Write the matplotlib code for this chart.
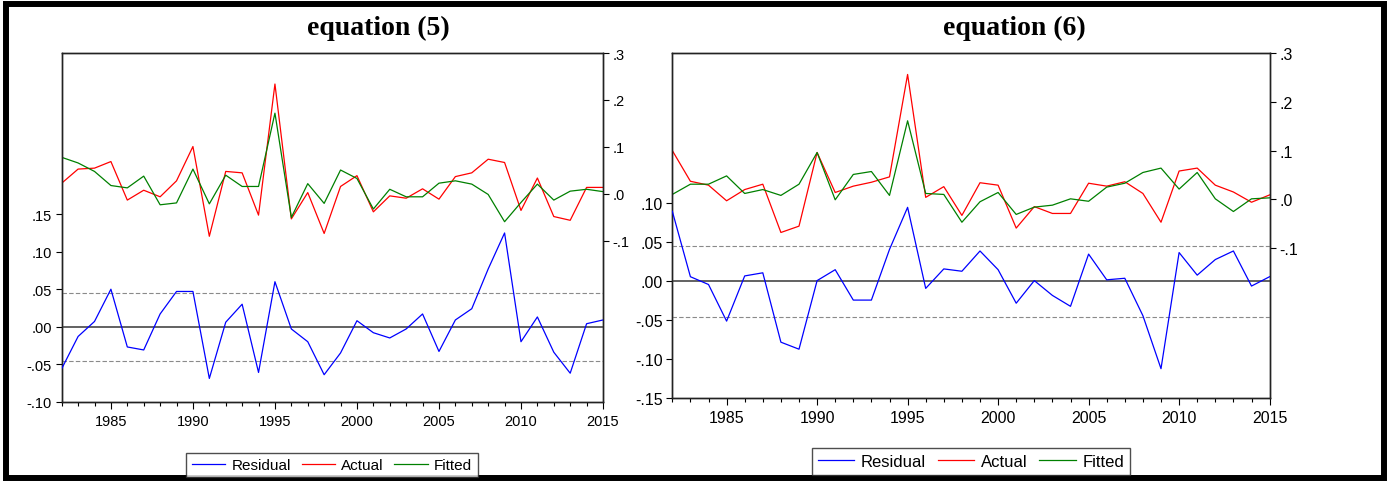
import matplotlib
matplotlib.use("Agg")
import matplotlib.pyplot as plt
from matplotlib.patches import Rectangle
from matplotlib.ticker import FixedLocator, MultipleLocator

years = list(range(1982, 2016))

# ---- equation (5) ----
actual5 = [0.023, 0.053, 0.055, 0.069, -0.013, 0.008, -0.006, 0.028, 0.101, -0.090,
           0.048, 0.045, -0.045, 0.234, -0.053, 0.003, -0.084, 0.016, 0.039, -0.038,
           -0.004, -0.009, 0.011, -0.011, 0.037, 0.045, 0.074, 0.067, -0.035, 0.034,
           -0.048, -0.056, 0.014, 0.014]
fitted5 = [0.078, 0.066, 0.048, 0.018, 0.013, 0.038, -0.023, -0.019, 0.053, -0.021,
           0.040, 0.016, 0.016, 0.172, -0.050, 0.022, -0.020, 0.051, 0.033, -0.032,
           0.010, -0.006, -0.006, 0.023, 0.028, 0.021, -0.001, -0.059, -0.018, 0.021,
           -0.013, 0.006, 0.010, 0.005]
resid5 = [-0.056, -0.013, 0.007, 0.050, -0.027, -0.031, 0.017, 0.047, 0.047, -0.069,
          0.006, 0.030, -0.061, 0.060, -0.003, -0.020, -0.064, -0.035, 0.008, -0.008,
          -0.015, -0.003, 0.017, -0.033, 0.009, 0.024, 0.077, 0.125, -0.020, 0.013,
          -0.034, -0.062, 0.004, 0.009]
band5 = 0.0455

# ---- equation (6) ----
actual6 = [0.100, 0.037, 0.029, -0.003, 0.020, 0.031, -0.068, -0.055, 0.096, 0.014,
           0.027, 0.035, 0.046, 0.256, 0.004, 0.026, -0.033, 0.034, 0.029, -0.059,
           -0.015, -0.029, -0.029, 0.033, 0.027, 0.036, 0.012, -0.047, 0.058, 0.064,
           0.029, 0.015, -0.006, 0.009]
fitted6 = [0.010, 0.031, 0.031, 0.048, 0.012, 0.020, 0.008, 0.031, 0.096, -0.001,
           0.051, 0.057, 0.008, 0.161, 0.012, 0.010, -0.047, -0.005, 0.014, -0.031,
           -0.016, -0.012, 0.001, -0.004, 0.025, 0.033, 0.055, 0.064, 0.021, 0.055,
           0.001, -0.025, 0.001, 0.003]
resid6 = [0.090, 0.006, -0.004, -0.051, 0.007, 0.011, -0.078, -0.087, 0.001, 0.015,
          -0.024, -0.024, 0.041, 0.095, -0.009, 0.016, 0.013, 0.039, 0.015, -0.028,
          0.001, -0.018, -0.032, 0.035, 0.002, 0.004, -0.044, -0.112, 0.037, 0.008,
          0.028, 0.039, -0.006, 0.006]
band6 = 0.0455

titles = ["equation (5)", "equation (6)"]
legend_labels = ["Residual", "Actual", "Fitted"]
xticks = [1985, 1990, 1995, 2000, 2005, 2010, 2015]

res_ticks5 = [-0.10, -0.05, 0.00, 0.05, 0.10, 0.15]
res_labels5 = ["-.10", "-.05", ".00", ".05", ".10", ".15"]
res_ticks6 = [-0.15, -0.10, -0.05, 0.00, 0.05, 0.10]
res_labels6 = ["-.15", "-.10", "-.05", ".00", ".05", ".10"]
fit_ticks = [-0.1, 0.0, 0.1, 0.2, 0.3]
fit_labels = ["-.1", ".0", ".1", ".2", ".3"]

plt.rcParams['font.family'] = ['Liberation Sans', 'DejaVu Sans']

W, H = 1390, 485
fig = plt.figure(figsize=(W / 100, H / 100), dpi=100)


def px(x0, y0, x1, y1):
    return [x0 / W, 1 - y1 / H, (x1 - x0) / W, (y1 - y0) / H]


def panel(rect, actual, fitted, resid, band, rticks, rlabels, rlim, flim, title,
          title_x, fs, leg_center, leg_fs):
    ax = fig.add_axes(rect)
    ax2 = ax.twinx()
    ax.set_zorder(ax2.get_zorder() + 1)
    ax.patch.set_visible(False)
    # residual axis
    ax.axhline(0, color='#555555', lw=1.3, zorder=1)
    ax.axhline(band, color='#8a8a8a', lw=0.8, ls=(0, (4, 2)), zorder=1)
    ax.axhline(-band, color='#8a8a8a', lw=0.8, ls=(0, (4, 2)), zorder=1)
    l1, = ax.plot(years, resid, color='#0000ff', lw=0.9, zorder=3)
    l2, = ax2.plot(years, actual, color='#ff0000', lw=0.9)
    l3, = ax2.plot(years, fitted, color='#008000', lw=0.9)
    ax.set_xlim(years[0], years[-1])
    ax.set_ylim(*rlim)
    ax2.set_ylim(*flim)
    ax.set_yticks(rticks)
    ax.set_yticklabels(rlabels)
    ax2.set_yticks(fit_ticks)
    ax2.set_yticklabels(fit_labels)
    ax.xaxis.set_major_locator(FixedLocator(xticks))
    ax.xaxis.set_minor_locator(MultipleLocator(1))
    ax.set_xticklabels([str(v) for v in xticks])
    ax.tick_params(axis='x', which='major', length=5, width=0.8, pad=3.5, labelsize=fs, direction='out')
    ax.tick_params(axis='x', which='minor', length=3, width=0.8, direction='out')
    ax.tick_params(axis='y', length=4, width=0.8, pad=3, labelsize=fs, direction='out')
    ax2.tick_params(axis='y', length=4, width=0.8, pad=3, labelsize=fs, direction='out')
    for a in (ax, ax2):
        for s in a.spines.values():
            s.set_linewidth(1.0)
            s.set_color('#222222')
    fig.text(title_x / W, 1 - 28 / H, title, ha='center', va='center',
             fontsize=20, fontweight='bold', family=['Liberation Serif', 'DejaVu Serif'])
    leg = fig.legend([l1, l2, l3], legend_labels, loc='center',
                     bbox_to_anchor=(leg_center[0] / W, 1 - leg_center[1] / H),
                     ncol=3, fontsize=leg_fs, frameon=True, fancybox=False,
                     handlelength=2.2, handletextpad=0.4, columnspacing=0.7,
                     borderpad=0.35, edgecolor='#222222')
    leg.get_frame().set_linewidth(1.0)


panel(px(61.7, 54, 603, 402.7), actual5, fitted5, resid5, band5,
      res_ticks5, res_labels5, (-0.10, 0.365), (-0.442, 0.3), titles[0], 378, 10.5,
      (332, 466), 11)
panel(px(672.3, 54, 1269.6, 399.3), actual6, fitted6, resid6, band6,
      res_ticks6, res_labels6, (-0.15, 0.293), (-0.408, 0.3), titles[1], 1014, 11.5,
      (971, 462.5), 12)

fig.add_artist(Rectangle((6 / W, 6 / H), (W - 12) / W, (H - 11) / H,
                         transform=fig.transFigure, fill=False, lw=4.3,
                         edgecolor='black'))

fig.savefig("out.png", dpi=100)
